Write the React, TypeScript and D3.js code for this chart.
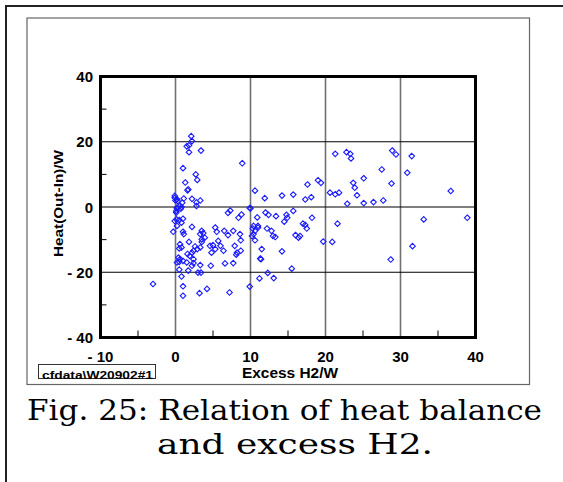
import React, { useEffect, useRef } from 'react';
import * as d3 from 'd3';

// Excess H2 (W) vs heat balance Out-In (W)
const excessH2 = [
  2.1, 2.2, 1.5, 1.8, 1.8, 3.4, 1.0, 8.9, 2.7, 2.9, 1.3, 1.7, 1.6, 10.6, -0.1, -0.1, 0.2, 0.0, 0.3, 1.1,
  2.2, 3.3, 2.8, 0.9, 0.6, 0.2, 0.1, 0.7, 7.3, 7.0, 8.8, 9.9, 10.9, 0.2, 0.8, 2.8, 8.4, 0.1, 0.15, -0.1,
  0.5, 1.0, 0.8, 0.2, 2.2, -0.3, 1.0, 1.1, 3.5, 3.3, 3.7, 5.3, 5.5, 6.5, 7.7, 7.0, 8.6, 8.7, 10.3, 10.6,
  10.2, 11.0, 3.5, 3.9, 3.5, 1.8, 0.6, 0.8, 0.5, 2.6, 2.9, 2.4, 3.3, 4.6, 5.0, 5.3, 4.8, 5.7, 6.0, 6.4,
  7.9, 8.2, 8.7, 1.6, 1.9, 2.2, 2.4, 0.4, 0.6, 1.0, 1.5, 0.2, 0.5, 2.2, 2.4, 3.3, 4.7, 6.6, 7.7, 8.1,
  0.5, 3.0, 3.4, 1.7, 0.8, 1.0, 1.0, 3.2, 4.2, 7.2, 9.9, 11.2, 11.3, -3.0,
  21.3, 22.8, 23.3, 23.4, 19.0, 19.4, 17.6, 11.9, 14.2, 15.7, 17.3, 18.1, 20.6, 21.3, 21.8, 22.9, 23.7, 23.9, 24.2, 25.1,
  25.1, 10.0, 12.0, 12.4, 13.4, 14.8, 14.9, 14.5, 15.7, 18.2, 10.4, 11.0, 10.4, 10.6, 12.2, 12.8, 13.0, 13.3, 17.0, 17.3,
  17.5, 16.0, 16.4, 16.6, 21.6, 19.7, 20.9, 11.5, 14.2, 11.4, 15.5, 12.3, 13.1,
  28.9, 29.4, 31.5, 27.5, 30.9, 28.8, 36.7, 26.4, 27.7, 33.1, 38.9, 31.6, 28.7,
];
const heatBalance = [
  21.7, 20.2, 18.6, 18.9, 16.8, 17.3, 11.9, 13.4, 10.0, 8.3, 7.5, 5.4, 5.1, 5.0, 3.4, 2.8, 2.4, 2.0, 1.8, 2.6,
  2.5, 2.0, 1.4, 1.3, 0.3, -0.4, -1.2, -0.5, -1.1, -1.8, -2.3, -0.3, -3.2, -0.2, 0.0, 0.3, -3.3, -1.7, -3.8, -4.3,
  -4.0, -3.6, -4.8, -5.8, -6.1, -7.6, -7.6, -8.3, -7.3, -8.3, -8.0, -6.3, -7.6, -7.3, -7.3, -8.6, -8.3, -10.2, -6.6, -7.3,
  -8.9, -5.8, -9.9, -9.4, -10.7, -10.7, -11.4, -12.4, -12.7, -12.1, -12.9, -13.4, -12.4, -11.9, -11.7, -12.9, -14.0, -10.4, -11.9, -13.4,
  -11.9, -14.0, -13.4, -14.4, -15.0, -14.0, -16.0, -15.5, -16.0, -16.5, -17.0, -17.0, -16.8, -18.0, -17.2, -17.8, -18.0, -17.3, -17.2, -14.6,
  -19.2, -20.1, -20.1, -19.5, -21.3, -24.3, -27.2, -26.4, -25.1, -26.2, -24.4, -21.9, -15.8, -23.6,
  16.3, 16.8, 16.3, 14.9, 8.2, 7.4, 6.9, 2.7, 3.5, 3.8, 2.3, 3.0, 4.4, 3.9, 4.4, 1.0, 7.4, 5.9, 3.6, 8.8,
  1.2, -0.4, -1.7, -2.4, -2.8, -2.4, -3.3, -4.5, -1.2, -3.3, -5.8, -6.3, -8.3, -10.2, -6.6, -7.3, -8.9, -9.2, -5.1, -5.5,
  -6.6, -8.6, -9.4, -8.9, -5.1, -10.6, -10.7, -12.9, -13.6, -16.0, -18.9, -20.2, -21.8,
  17.3, 16.1, 15.6, 11.5, 10.5, 7.2, 4.9, 1.5, 2.0, -3.8, -3.3, -12.0, -16.1,
];

const xTicks = [-10, 0, 10, 20, 30, 40];
const xTickLabels = ['- 10', '0', '10', '20', '30', '40'];
const yTicks = [-40, -20, 0, 20, 40];
const yTickLabels = ['- 40', '- 20', '0', '20', '40'];
const xMinor = [-5, 5, 15, 25, 35];
const yMinor = [-30, -10, 10, 30];

const captionLine1 = ['Fig.', '25:', 'Relation', 'of', 'heat', 'balance'];
const captionLine2 = 'and excess H2.';

const W = 563;
const H = 482;

const App: React.FC = () => {
  const svgRef = useRef<SVGSVGElement>(null);

  useEffect(() => {
    if (!svgRef.current) return;
    const svg = d3.select(svgRef.current);
    svg.selectAll('*').remove();

    const sans = '"Liberation Sans", Arial, sans-serif';
    const serif = '"DejaVu Serif", serif';

    // page frames
    svg.append('path')
      .attr('d', `M6,${H} L6,6 L${W},6`)
      .attr('fill', 'none')
      .attr('stroke', '#222')
      .attr('stroke-width', 2);
    svg.append('rect')
      .attr('x', 27).attr('y', 18)
      .attr('width', 502.5).attr('height', 366.5)
      .attr('fill', 'none')
      .attr('stroke', '#666')
      .attr('stroke-width', 1.2);

    const x = d3.scaleLinear().domain([-10, 40]).range([100.5, 475.5]);
    const y = d3.scaleLinear().domain([-40, 40]).range([337.5, 76.5]);
    const [x0, x1] = x.range();
    const [y0, y1] = y.range();

    const g = svg.append('g');

    // grid
    g.selectAll('.vgrid')
      .data(xTicks.slice(1, -1))
      .enter()
      .append('line')
      .attr('x1', d => x(d)).attr('x2', d => x(d))
      .attr('y1', y1).attr('y2', y0)
      .attr('stroke', '#707070')
      .attr('stroke-width', 1.6);
    g.selectAll('.hgrid')
      .data(yTicks.slice(1, -1))
      .enter()
      .append('line')
      .attr('x1', x0).attr('x2', x1)
      .attr('y1', d => y(d)).attr('y2', d => y(d))
      .attr('stroke', '#000')
      .attr('stroke-width', 1.2);

    // minor ticks
    g.selectAll('.xminor')
      .data(xMinor)
      .enter()
      .append('line')
      .attr('x1', d => x(d)).attr('x2', d => x(d))
      .attr('y1', y0).attr('y2', y0 - 7)
      .attr('stroke', '#000')
      .attr('stroke-width', 1);
    g.selectAll('.yminor')
      .data(yMinor)
      .enter()
      .append('line')
      .attr('x1', x0).attr('x2', x0 + 6)
      .attr('y1', d => y(d)).attr('y2', d => y(d))
      .attr('stroke', '#000')
      .attr('stroke-width', 1);

    // points
    const diamond = d3.symbol().type(d3.symbolDiamond2).size(20);
    g.selectAll('.pt')
      .data(excessH2.map((v, i) => [v, heatBalance[i]]))
      .enter()
      .append('path')
      .attr('d', diamond)
      .attr('transform', d => `translate(${x(d[0])},${y(d[1])})`)
      .attr('fill', 'none')
      .attr('stroke', '#1a1aff')
      .attr('stroke-width', 1.1);

    // plot border
    g.append('rect')
      .attr('x', x0).attr('y', y1)
      .attr('width', x1 - x0).attr('height', y0 - y1)
      .attr('fill', 'none')
      .attr('stroke', '#000')
      .attr('stroke-width', 3);

    // tick labels
    g.selectAll('.xlab')
      .data(xTicks)
      .enter()
      .append('text')
      .text((_, i) => xTickLabels[i])
      .attr('x', d => x(d))
      .attr('y', 362)
      .attr('text-anchor', 'middle')
      .attr('font-family', sans)
      .attr('font-weight', 'bold')
      .attr('font-size', 15)
      .attr('fill', '#000');
    g.selectAll('.ylab')
      .data(yTicks)
      .enter()
      .append('text')
      .text((_, i) => yTickLabels[i])
      .attr('x', 93)
      .attr('y', d => y(d) + 5.5)
      .attr('text-anchor', 'end')
      .attr('font-family', sans)
      .attr('font-weight', 'bold')
      .attr('font-size', 15)
      .attr('fill', '#000');

    // axis titles
    svg.append('text')
      .text('Excess  H2/W')
      .attr('x', 242).attr('y', 378)
      .attr('textLength', 96)
      .attr('lengthAdjust', 'spacingAndGlyphs')
      .attr('font-family', sans)
      .attr('font-weight', 'bold')
      .attr('font-size', 14)
      .attr('fill', '#000');
    svg.append('text')
      .text('Heat(Out-In)/W')
      .attr('transform', 'translate(63,204) rotate(-90)')
      .attr('x', -53)
      .attr('textLength', 107)
      .attr('lengthAdjust', 'spacingAndGlyphs')
      .attr('font-family', sans)
      .attr('font-weight', 'bold')
      .attr('font-size', 12)
      .attr('fill', '#000');

    // file label box
    svg.append('rect')
      .attr('x', 38.5).attr('y', 364.5)
      .attr('width', 117).attr('height', 14)
      .attr('fill', '#fff')
      .attr('stroke', '#333')
      .attr('stroke-width', 1);
    svg.append('text')
      .text('cfdata\\W20902#1')
      .attr('x', 42).attr('y', 379)
      .attr('textLength', 111)
      .attr('lengthAdjust', 'spacingAndGlyphs')
      .attr('font-family', sans)
      .attr('font-weight', 'bold')
      .attr('font-size', 11.5)
      .attr('fill', '#000');

    // caption, line 1 justified, line 2 centred
    const cap = svg.append('g')
      .attr('font-family', serif)
      .attr('font-size', 27)
      .attr('fill', '#000');
    const line2 = cap.append('text').text(captionLine2).attr('y', 454);
    const w2 = (line2.node() as SVGTextElement).getComputedTextLength();
    const target2 = 276;
    const stretch = target2 / w2;
    line2.attr('x', 295 - target2 / 2)
      .attr('textLength', target2)
      .attr('lengthAdjust', 'spacingAndGlyphs');

    const words = captionLine1.map(w => cap.append('text').text(w).attr('y', 420));
    const widths = words.map(t => (t.node() as SVGTextElement).getComputedTextLength());
    const left = 27;
    const right = 542;
    let s = stretch;
    const sum = d3.sum(widths);
    if (sum * s > right - left - 5 * 10) s = (right - left - 5 * 10) / sum;
    const gap = (right - left - sum * s) / (words.length - 1);
    let cx = left;
    words.forEach((t, i) => {
      const wl = widths[i] * s;
      t.attr('x', cx).attr('textLength', wl).attr('lengthAdjust', 'spacingAndGlyphs');
      cx += wl + gap;
    });
  }, []);

  return (
    <svg
      ref={svgRef}
      width={W}
      height={H}
      style={{ position: 'absolute', left: 0, top: 0, background: '#fff' }}
    />
  );
};

export default App;
